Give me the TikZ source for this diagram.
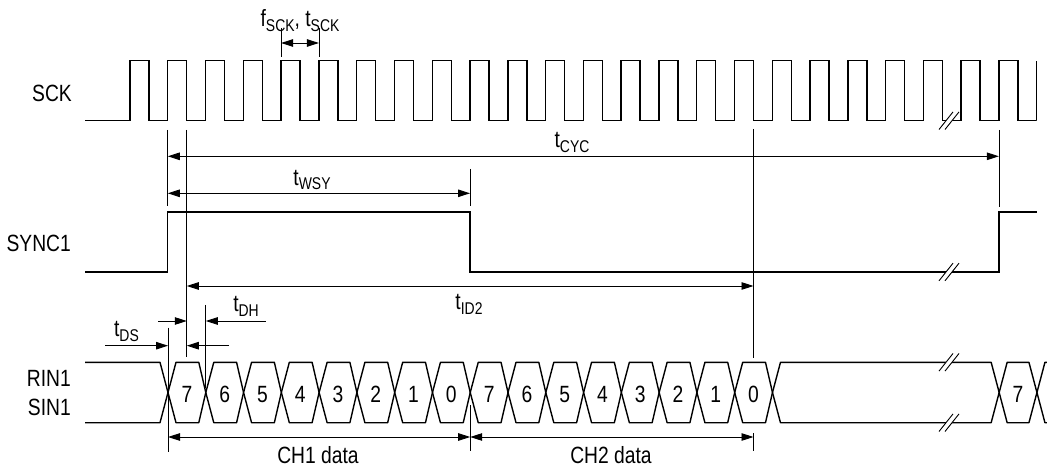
\documentclass[tikz,border=0pt]{standalone}
\usepackage{fontspec}
\setmainfont{Liberation Sans}[FakeStretch=0.82]
\usetikzlibrary{arrows.meta}
\newcommand{\tsb}[2]{#1\raisebox{-4.5pt}{\fontsize{17}{18}\selectfont #2}}
\begin{document}
\begin{tikzpicture}[x=1pt,y=-1pt,
  sig/.style={line width=1.4pt, line join=miter},
  bus/.style={line width=1.4pt, line join=round},
  dim/.style={line width=0.8pt},
  tip/.tip={Triangle[length=12pt,width=7.5pt]},
  dimarr/.style={line width=0.9pt, -tip},
  dimboth/.style={line width=0.9pt, tip-tip},
  lbl/.style={font=\fontsize{23.5}{26}\selectfont, inner sep=0pt},
  brk/.style={line width=0.9pt},
]
\useasboundingbox (0,0) rectangle (1047,470);

% ---------- SCK ----------
\draw[sig] (85,120.7) foreach \k in {0,...,23}{ -- ({130+37.78*\k},120.7) |- ({149+37.78*\k},60.7) |- ({167.78+37.78*\k},120.7)} -- (1036.7,120.7) -- (1036.7,60.7);

% ---------- SYNC1 ----------
\draw[sig] (85,272) -| (167.78,212) -| (470.0,272) -- (998.9,272) |- (1036.7,212);

% ---------- RIN1 / SIN1 bus ----------
\def\bt{362.3}\def\bb{422.7}\def\bm{392.5}
\draw[bus] (85,\bt) -- (160,\bt) -- (168,\bm) -- (160,\bb) -- (85,\bb);
\foreach \k in {0,...,15}{
  \draw[bus] ({168+37.78*\k},\bm) -- ({176+37.78*\k},\bt) -- ({198.78+37.78*\k},\bt) -- ({205.78+37.78*\k},\bm) -- ({198.78+37.78*\k},\bb) -- ({176+37.78*\k},\bb) -- cycle;
}
% long idle band
\draw[bus] (772.48,\bm) -- (780.48,\bt) -- (991.16,\bt) -- (999.16,\bm) -- (991.16,\bb) -- (780.48,\bb) -- cycle;
% last 7
\draw[bus] (999.16,\bm) -- (1007.16,\bt) -- (1028.94,\bt) -- (1036.94,\bm) -- (1028.94,\bb) -- (1007.16,\bb) -- cycle;
\draw[bus] (1050,\bt) -- (1044.94,\bt) -- (1036.94,\bm) -- (1044.94,\bb) -- (1050,\bb);

\foreach \d [count=\i from 0] in {7,6,5,4,3,2,1,0,7,6,5,4,3,2,1,0}
  \node[lbl] (d\i) at ({186.89+37.78*\i},394.7) {\d};
\node[lbl] (d16) at (1018.05,394.7) {7};

% ---------- break marks ----------
\foreach \yy in {120.7,272,362.3,422.7}{
  \fill[white] (939,{\yy+8.8}) -- (953,{\yy-8.8}) -- (959,{\yy-8.8}) -- (945,{\yy+8.8}) -- cycle;
  \draw[brk] (939,{\yy+8.8}) -- (953,{\yy-8.8});
  \draw[brk] (945,{\yy+8.8}) -- (959,{\yy-8.8});
}

% ---------- extension lines ----------
\draw[dim] (281.1,28) -- (281.1,57);
\draw[dim] (318.9,28) -- (318.9,57);
\draw[dim] (167.78,130) -- (167.78,206);
\draw[dim] (186.78,130) -- (186.78,357);
\draw[dim] (470.0,169) -- (470.0,206);
\draw[dim] (753.5,129) -- (753.5,358);
\draw[dim] (998.9,130) -- (998.9,207);
\draw[dim] (168,327.7) -- (168,451.7);
\draw[dim] (205.78,305) -- (205.78,388);
\draw[dim] (470.2,405) -- (470.2,450.7);
\draw[dim] (753.5,433) -- (753.5,451);

% ---------- dimension arrows ----------
\coordinate (sckA) at (281.1,43);   \coordinate (sckB) at (318.9,43);
\coordinate (cycA) at (167.78,156.3); \coordinate (cycB) at (998.9,156.3);
\coordinate (wsyA) at (167.78,193.3); \coordinate (wsyB) at (470.0,193.3);
\coordinate (idA) at (186.78,286);  \coordinate (idB) at (753.5,286);
\coordinate (dhL) at (158,321);     \coordinate (dhA) at (186.78,321);
\coordinate (dhB) at (205.78,321);  \coordinate (dhR) at (265.7,321);
\coordinate (dsL) at (105,345.7);   \coordinate (dsA) at (168,345.7);
\coordinate (dsB) at (186.78,345.7); \coordinate (dsR) at (229,345.7);
\coordinate (chA) at (168,437);     \coordinate (chM) at (470.2,437);
\coordinate (chB) at (753.5,437);

\draw[dimboth] (sckA) -- (sckB);
\draw[dimboth] (cycA) -- (cycB);
\draw[dimboth] (wsyA) -- (wsyB);
\draw[dimboth] (idA) -- (idB);
\draw[dimarr] (dhL) -- (dhA);
\draw[dimarr] (dhR) -- (dhB);
\draw[dimarr] (dsL) -- (dsA);
\draw[dimarr] (dsR) -- (dsB);
\draw[dimboth] (chA) -- (chM);
\draw[dimboth] (chM) -- (chB);

% ---------- labels ----------
\node[lbl, anchor=base] (lfsck) at (300,27) {\tsb{f}{SCK}, \tsb{t}{SCK}};
\node[lbl, anchor=base] (lcyc) at (572,148) {\tsb{t}{CYC}};
\node[lbl, anchor=base] (lwsy) at (312,185.5) {\tsb{t}{WSY}};
\node[lbl, anchor=base] (lid) at (469,310) {\tsb{t}{ID2}};
\node[lbl, anchor=base] (ldh) at (246,312) {\tsb{t}{DH}};
\node[lbl, anchor=base] (lds) at (126.5,337) {\tsb{t}{DS}};
\node[lbl, anchor=base] (lch1) at (318,463) {CH1 data};
\node[lbl, anchor=base] (lch2) at (611,463) {CH2 data};

\node[lbl, anchor=base east] (nsck) at (72,101.7) {SCK};
\node[lbl, anchor=base east] (nsync) at (71,251.5) {SYNC1};
\node[lbl, anchor=base east] (nrin) at (71,386.7) {RIN1};
\node[lbl, anchor=base east] (nsin) at (71,415.7) {SIN1};
\end{tikzpicture}
\end{document}
